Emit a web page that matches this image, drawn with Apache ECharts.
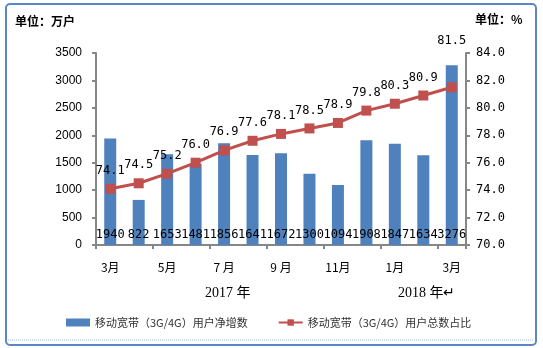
<!DOCTYPE html>
<html><head><meta charset="utf-8">
<script src="https://cdn.jsdelivr.net/npm/echarts@6/dist/echarts.min.js"></script>
<style>html,body{margin:0;padding:0;background:#fff}#c{width:543px;height:348px}</style>
</head><body><div id="c"></div>
<script>
const categories = ['3月','4月','5月','6月','7 月','8月','9 月','10月','11月','12月','1月','2月','3月'];
const netAdds = [1940, 822, 1653, 1481, 1856, 1641, 1672, 1300, 1094, 1908, 1847, 1634, 3276];
const share = [74.1, 74.5, 75.2, 76.0, 76.9, 77.6, 78.1, 78.5, 78.9, 79.8, 80.3, 80.9, 81.5];
const barName = '移动宽带（3G/4G）用户净增数';
const lineName = '移动宽带（3G/4G）用户总数占比';
const yearLabels = ['2017 年', '2018 年↵'];

const chart = echarts.init(document.getElementById('c'));
const mono = 'DejaVu Sans Mono';
const lastIdx = share.length - 1;
const lineData = share.map((v, i) => i === lastIdx ? {value: v, label: {offset: [0, -28]}} : v);
chart.setOption({
  animation: false,
  grid: {left: 96, right: 77, top: 53, bottom: 103},
  graphic: [
    {type: 'rect', shape: {x: 6, y: 4, width: 530, height: 341, r: 4}, style: {fill: 'none', stroke: '#5b87c5', lineWidth: 2}},
    {type: 'line', shape: {x1: 8, y1: 340, x2: 534, y2: 340}, style: {stroke: '#9fb8d8', lineWidth: 1, lineDash: [1, 1]}},
    {type: 'text', left: 15, top: 15, style: {text: '单位：万户', font: 'bold 12px "Noto Sans CJK SC"', fill: '#000'}},
    {type: 'text', left: 475, top: 13, style: {text: '单位：%', font: 'bold 12px "Noto Sans CJK SC"', fill: '#000'}},
    {type: 'text', left: 205, top: 286, style: {text: yearLabels[0], font: '14px "Liberation Serif", "Noto Sans CJK SC"', fill: '#000'}},
    {type: 'text', left: 398, top: 286, style: {text: yearLabels[1], font: '14px "Liberation Serif", "Noto Sans CJK SC"', fill: '#000'}}
  ],
  legend: {
    left: 61, top: 312, itemGap: 30, itemWidth: 24, itemHeight: 8,
    textStyle: {fontFamily: '"Noto Sans CJK SC"', fontSize: 11, color: '#333'},
    data: [{name: barName, icon: 'rect', itemStyle: {}}, {name: lineName}]
  },
  xAxis: {
    type: 'category', data: categories,
    axisLine: {lineStyle: {color: '#868686', width: 2}},
    axisTick: {show: true, length: 4, lineStyle: {color: '#868686', width: 2}},
    axisLabel: {interval: 1, margin: 16, color: '#000', fontSize: 12, fontFamily: '"Noto Sans CJK SC"'}
  },
  yAxis: [
    {type: 'value', min: 0, max: 3500, interval: 500,
     splitLine: {show: false},
     axisLine: {show: true, lineStyle: {color: '#868686', width: 2}},
     axisTick: {show: true, length: 4, lineStyle: {color: '#868686', width: 2}},
     axisLabel: {color: '#000', fontSize: 12, fontFamily: 'Liberation Sans', margin: 14,
       formatter: v => String(v)}},
    {type: 'value', min: 70, max: 84, interval: 2,
     splitLine: {show: false},
     axisLine: {show: true, lineStyle: {color: '#868686', width: 2}},
     axisTick: {show: true, length: 4, lineStyle: {color: '#868686', width: 2}},
     axisLabel: {color: '#000', fontSize: 12, fontFamily: mono, margin: 10,
       formatter: v => v.toFixed(1)}}
  ],
  series: [
    {name: barName, type: 'bar', data: netAdds, barWidth: 12, yAxisIndex: 0,
     itemStyle: {color: '#4f81bd'},
     label: {show: true, position: 'insideBottom', distance: 4, color: '#000',
       fontFamily: mono, fontSize: 12}},
    {name: lineName, type: 'line', data: lineData, yAxisIndex: 1,
     symbol: 'rect', symbolSize: 10,
     lineStyle: {color: '#c0504d', width: 3}, itemStyle: {color: '#c0504d'},
     label: {show: true, position: 'top', distance: 7, color: '#000',
       fontFamily: mono, fontSize: 12, formatter: p => p.value.toFixed(1)}}
  ]
});
</script></body></html>
